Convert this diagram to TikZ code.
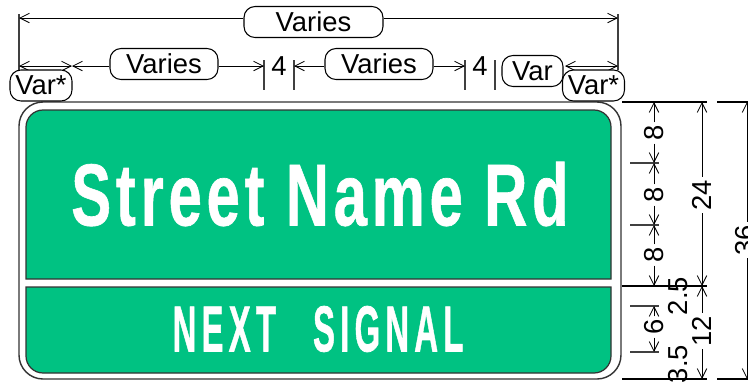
\documentclass[tikz,border=0pt]{standalone}
\usepackage{fontspec}
\setmainfont{Liberation Sans}
\newfontfamily\signfont[UprightFont=* Bold, LetterSpace=8, FakeBold=0.8]{Liberation Sans}
\newfontfamily\signwidefont[UprightFont=* Bold, LetterSpace=16, FakeBold=1.2]{Liberation Sans}
\usepackage{xcolor}
\usetikzlibrary{arrows.meta}
\definecolor{signgreen}{RGB}{0,194,130}
\tikzset{
	dimline/.style={line width=0.5pt, {Straight Barb[length=1.9mm,width=1.9mm]}-{Straight Barb[length=1.9mm,width=1.9mm]}},
	dimto/.style={line width=0.5pt, -{Straight Barb[length=1.9mm,width=1.9mm]}},
	tickline/.style={line width=0.6pt, black!75},
	varbox/.style={draw, fill=white, rounded corners=2.2mm, line width=0.6pt, inner sep=0pt, minimum height=6.2mm, font=\fontsize{15.6}{18}\selectfont},
	dimlabel/.style={inner sep=1.5pt, font=\fontsize{15.6}{18}\selectfont},
	sidelabel/.style={dimlabel, rotate=90}
}
\begin{document}
\begin{tikzpicture}[x=0.02cm, y=-0.02cm]
	\useasboundingbox (0,0) rectangle (748,383);
	\begin{scope}
	\clip (0,0) rectangle (748,383);

	% sign
	\draw[line width=0.8pt, black!80, rounded corners=4.8mm] (19,102) rectangle (621,379);
	\draw[line width=0.7pt, black!80, fill=signgreen] (611,279) -- (26,279) [rounded corners=3.4mm] -- (26,110) -- (611,110) [sharp corners] -- cycle;
	\draw[line width=0.7pt, black!80, fill=signgreen] (26,287) -- (611,287) [rounded corners=3.4mm] -- (611,373) -- (26,373) [sharp corners] -- cycle;
	\node[white] (street) at (320,194) {\scalebox{0.68}[1]{\signfont\fontsize{50}{60}\selectfont Street Name Rd}};
	\node[white] (next) at (318,329) {\scalebox{0.505}[1]{\signwidefont\fontsize{37}{44}\selectfont NEXT\hspace{1.13em}SIGNAL}};

	% ends of the top dimensions
	\coordinate (L1) at (19,14);
	\coordinate (L2) at (19,18);
	\coordinate (L3) at (19,66);
	\coordinate (L4) at (19,70);
	\coordinate (R1) at (618,14);
	\coordinate (R2) at (618,18);
	\coordinate (R3) at (618,66);
	\coordinate (R4) at (618,70);
	\coordinate (T1a) at (264,60);
	\coordinate (T1b) at (264,90);
	\coordinate (T2a) at (294,60);
	\coordinate (T2b) at (294,90);
	\coordinate (T3a) at (465,60);
	\coordinate (T3b) at (465,90);
	\coordinate (T4a) at (495,60);
	\coordinate (T4b) at (495,90);
	\coordinate (A1) at (264,66);
	\coordinate (A2) at (294,66);
	\coordinate (A3) at (465,66);
	\coordinate (A4) at (72,66);
	\coordinate (A5) at (565,66);

	% ticks
	\draw[tickline] (L1)--(L4);
	\draw[tickline] (R1)--(R4);
	\draw[tickline] (T1a)--(T1b);
	\draw[tickline] (T2a)--(T2b);
	\draw[tickline] (T3a)--(T3b);
	\draw[tickline] (T4a)--(T4b);

	% labels along the top
	\node[varbox, minimum width=27.8mm] (total) at (313.5,22) {Varies};
	\node[varbox, minimum width=21.6mm] (varL) at (164,64) {Varies};
	\node[varbox, minimum width=21.6mm] (varR) at (379,64) {Varies};
	\node[dimlabel] (fourL) at (279,66) {4};
	\node[dimlabel] (fourR) at (480,66) {4};
	\node[varbox, minimum width=12.2mm] (varS) at (532.5,71) {Var};

	% arrows along the top
	\draw[dimto] (total.west |- L2)--(L2);
	\draw[dimto] (total.east |- R2)--(R2);
	\draw[dimline] (L3)--(A4);
	\draw[dimline] (A5)--(R3);
	\draw[dimto] (varL.west |- A4)--(A4);
	\draw[dimto] (varL.east |- A1)--(A1);
	\draw[dimto] (varR.west |- A2)--(A2);
	\draw[dimto] (varR.east |- A3)--(A3);

	\node[varbox, minimum width=12.4mm] (starL) at (41,85.5) {Var*};
	\node[varbox, minimum width=12.4mm] (starR) at (593.5,85.5) {Var*};

	% levels on the right
	\coordinate (top) at (654,102);
	\coordinate (p1) at (654,163);
	\coordinate (p2) at (654,225);
	\coordinate (p3) at (654,286);
	\coordinate (p4) at (654,306);
	\coordinate (p5) at (654,352);
	\coordinate (q0) at (702,102);
	\coordinate (q1) at (702,286);
	\coordinate (q2) at (702,379);
	\coordinate (s0) at (747,102);
	\coordinate (s1) at (747,379);

	\draw[line width=0.7pt] (622,102)--(707,102);
	\draw[line width=0.7pt] (717,102)--(748,102);
	\draw[line width=0.7pt] (622,286)--(707,286);
	\draw[line width=0.7pt] (622,379)--(707,379);
	\draw[line width=0.7pt] (717,379)--(748,379);
	\draw[tickline] (630,163)--(659,163);
	\draw[tickline] (630,225)--(659,225);
	\draw[tickline] (630,306)--(659,306);
	\draw[tickline] (630,352)--(659,352);

	% labels on the right
	\node[sidelabel] (eightA) at (654,133) {8};
	\node[sidelabel] (eightB) at (654,195) {8};
	\node[sidelabel] (eightC) at (654,255) {8};
	\node[sidelabel] (six) at (654,327) {6};
	\node[sidelabel] (twofive) at (678,296) {2.5};
	\node[sidelabel] (threefive) at (678,364) {3.5};
	\node[sidelabel] (twentyfour) at (702,195) {24};
	\node[sidelabel] (twelve) at (702,331) {12};
	\node[sidelabel] (thirtysix) at (745,240) {36};

	% arrows on the right
	\draw[dimto] (eightA.east)--(top);
	\draw[dimto] (eightA.west)--(p1);
	\draw[dimto] (eightB.east)--(p1);
	\draw[dimto] (eightB.west)--(p2);
	\draw[dimto] (eightC.east)--(p2);
	\draw[dimto] (eightC.west)--(p3);
	\draw[dimto] (six.east)--(p4);
	\draw[dimto] (six.west)--(p5);
	\draw[dimto] (twentyfour.east)--(q0);
	\draw[dimto] (twentyfour.west)--(q1);
	\draw[dimto] (twelve.east)--(q1);
	\draw[dimto] (twelve.west)--(q2);
	\draw[dimto] (thirtysix.east -| s0)--(s0);
	\draw[dimto] (thirtysix.west -| s1)--(s1);
	\end{scope}
\end{tikzpicture}
\end{document}
